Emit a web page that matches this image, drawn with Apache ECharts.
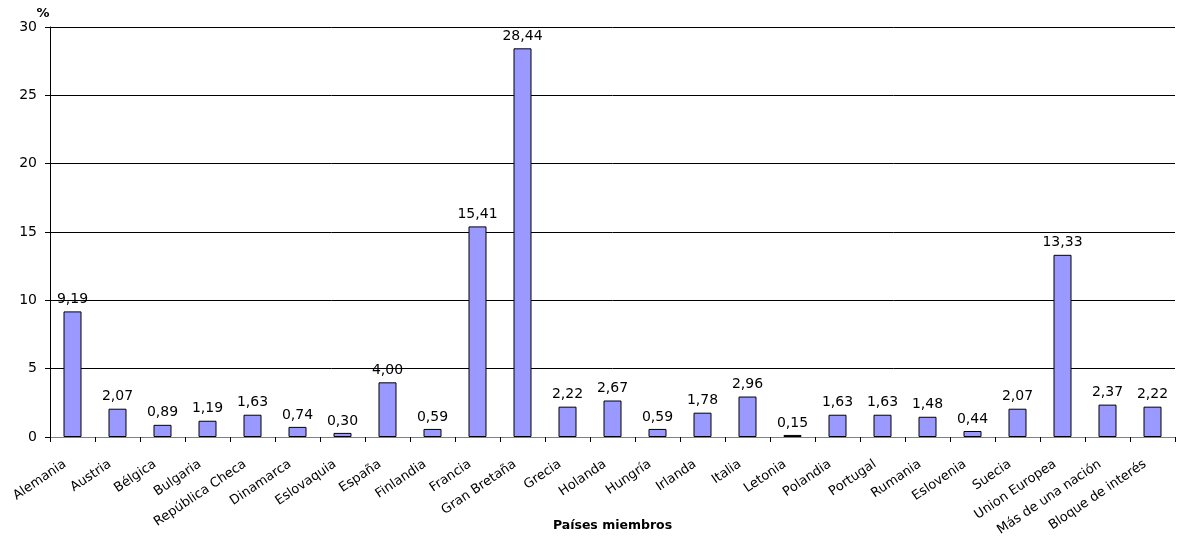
<!DOCTYPE html>
<html>
<head>
<meta charset="utf-8">
<script src="https://cdn.jsdelivr.net/npm/echarts@6/dist/echarts.min.js"></script>
<style>
  html, body { margin: 0; padding: 0; background: #fff; }
  #bar_chart { width: 1177px; height: 537px; }
</style>
</head>
<body>
<div id="bar_chart"></div>
<script>
// categorías (países)
const paises = ['Alemania', 'Austria', 'Bélgica', 'Bulgaria', 'República Checa', 'Dinamarca', 'Eslovaquia',
  'España', 'Finlandia', 'Francia', 'Gran Bretaña', 'Grecia', 'Holanda', 'Hungría', 'Irlanda', 'Italia',
  'Letonia', 'Polandia', 'Portugal', 'Rumania', 'Eslovenia', 'Suecia', 'Union Europea', 'Más de una nación',
  'Bloque de interés'];
// porcentajes
const valores = [9.19, 2.07, 0.89, 1.19, 1.63, 0.74, 0.30, 4.00, 0.59, 15.41, 28.44, 2.22, 2.67, 0.59,
  1.78, 2.96, 0.15, 1.63, 1.63, 1.48, 0.44, 2.07, 13.33, 2.37, 2.22];
const yTicks = [0, 5, 10, 15, 20, 25, 30];

const chart = echarts.init(document.getElementById('bar_chart'));
const font = 'DejaVu Sans, Verdana, sans-serif';

let option = {
  animation: false,
  textStyle: { fontFamily: font },
  grid: { left: 50, right: 2, top: 27, bottom: 100, outerBoundsMode: 'none', containLabel: false },
  xAxis: {
    type: 'category',
    data: paises,
    name: 'Países miembros',
    nameLocation: 'middle',
    nameGap: 82,
    nameMoveOverlap: false,
    nameTextStyle: { fontWeight: 'bold', fontSize: 12.5, color: '#000', fontFamily: font },
    axisLine: { show: true, lineStyle: { color: '#808080', width: 1 } },
    axisTick: { show: true, alignWithLabel: false, length: 5, lineStyle: { color: '#000' } },
    axisLabel: {
      interval: 0, rotate: 34, fontSize: 13, color: '#000', margin: 21,
      padding: [0, 9, 0, 0], fontFamily: font, hideOverlap: false
    }
  },
  yAxis: {
    type: 'value',
    min: yTicks[0],
    max: yTicks[yTicks.length - 1],
    interval: 5,
    name: '%',
    nameLocation: 'end',
    nameGap: 7,
    nameTextStyle: { fontWeight: 'bold', fontSize: 13, color: '#000', align: 'center', padding: [0, 0, 0, -14], fontFamily: font },
    axisLine: { show: true, lineStyle: { color: '#000' } },
    axisTick: { show: true, length: 5, lineStyle: { color: '#000' } },
    axisLabel: { fontSize: 14, color: '#000', margin: 13, fontFamily: font },
    splitLine: { show: true, lineStyle: { color: '#000', width: 1 } }
  },
  series: [{
    type: 'bar',
    data: valores,
    barWidth: 18,
    itemStyle: { color: '#9999FF', borderColor: '#000', borderWidth: 1 },
    label: {
      show: true,
      position: 'top',
      distance: 5,
      fontSize: 14,
      color: '#000',
      fontFamily: font,
      formatter: p => p.value.toFixed(2).replace('.', ',')
    }
  }]
};
chart.setOption(option);
</script>
</body>
</html>
